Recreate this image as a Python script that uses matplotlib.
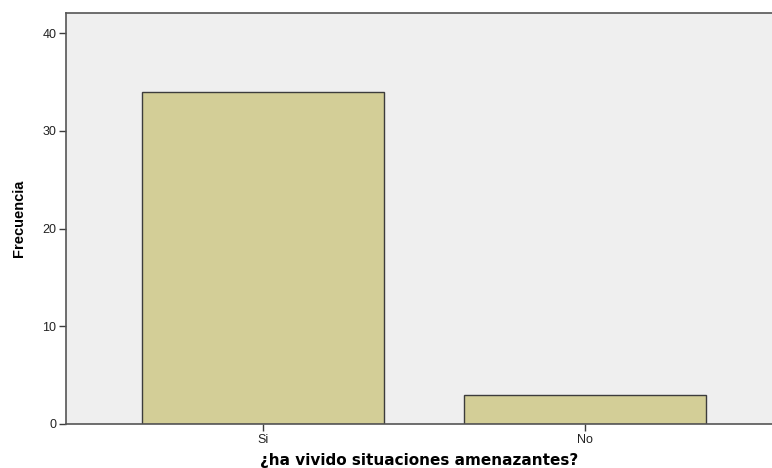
import matplotlib
matplotlib.use('Agg')
import matplotlib.pyplot as plt

categories = ['Si', 'No']
frecuencia = [34, 3]

plt.rcParams['font.family'] = ['Liberation Sans', 'DejaVu Sans']

fig = plt.figure(figsize=(7.72, 4.68), dpi=100)
ax = fig.add_axes([66 / 772, 44 / 468, 706 / 772, 411 / 468])
ax.set_facecolor('#efefef')

pos = list(range(len(categories)))
ax.bar(pos, frecuencia, width=0.75, color='#d3ce97', edgecolor='#3c3c3c',
       linewidth=1.0, zorder=2)

ax.set_xlim(-0.612, 1.58)
ax.set_ylim(0, 42.05)
ax.set_yticks([0, 10, 20, 30, 40])
ax.set_xticks(pos)
ax.set_xticklabels(categories)
ax.tick_params(axis='both', direction='out', length=5, width=1.0,
               color='#3c3c3c', labelsize=9, labelcolor='#222222', pad=2)

for side in ['left', 'bottom', 'top']:
    ax.spines[side].set_color('#555555')
    ax.spines[side].set_linewidth(1.2)
ax.spines['right'].set_visible(False)

ax.set_ylabel('Frecuencia', fontsize=10.5, fontweight='bold', labelpad=12)
ax.set_xlabel('¿ha vivido situaciones amenazantes?', fontsize=11,
              fontweight='bold', family=['DejaVu Sans'], labelpad=5)

fig.savefig('out.png', dpi=100)
